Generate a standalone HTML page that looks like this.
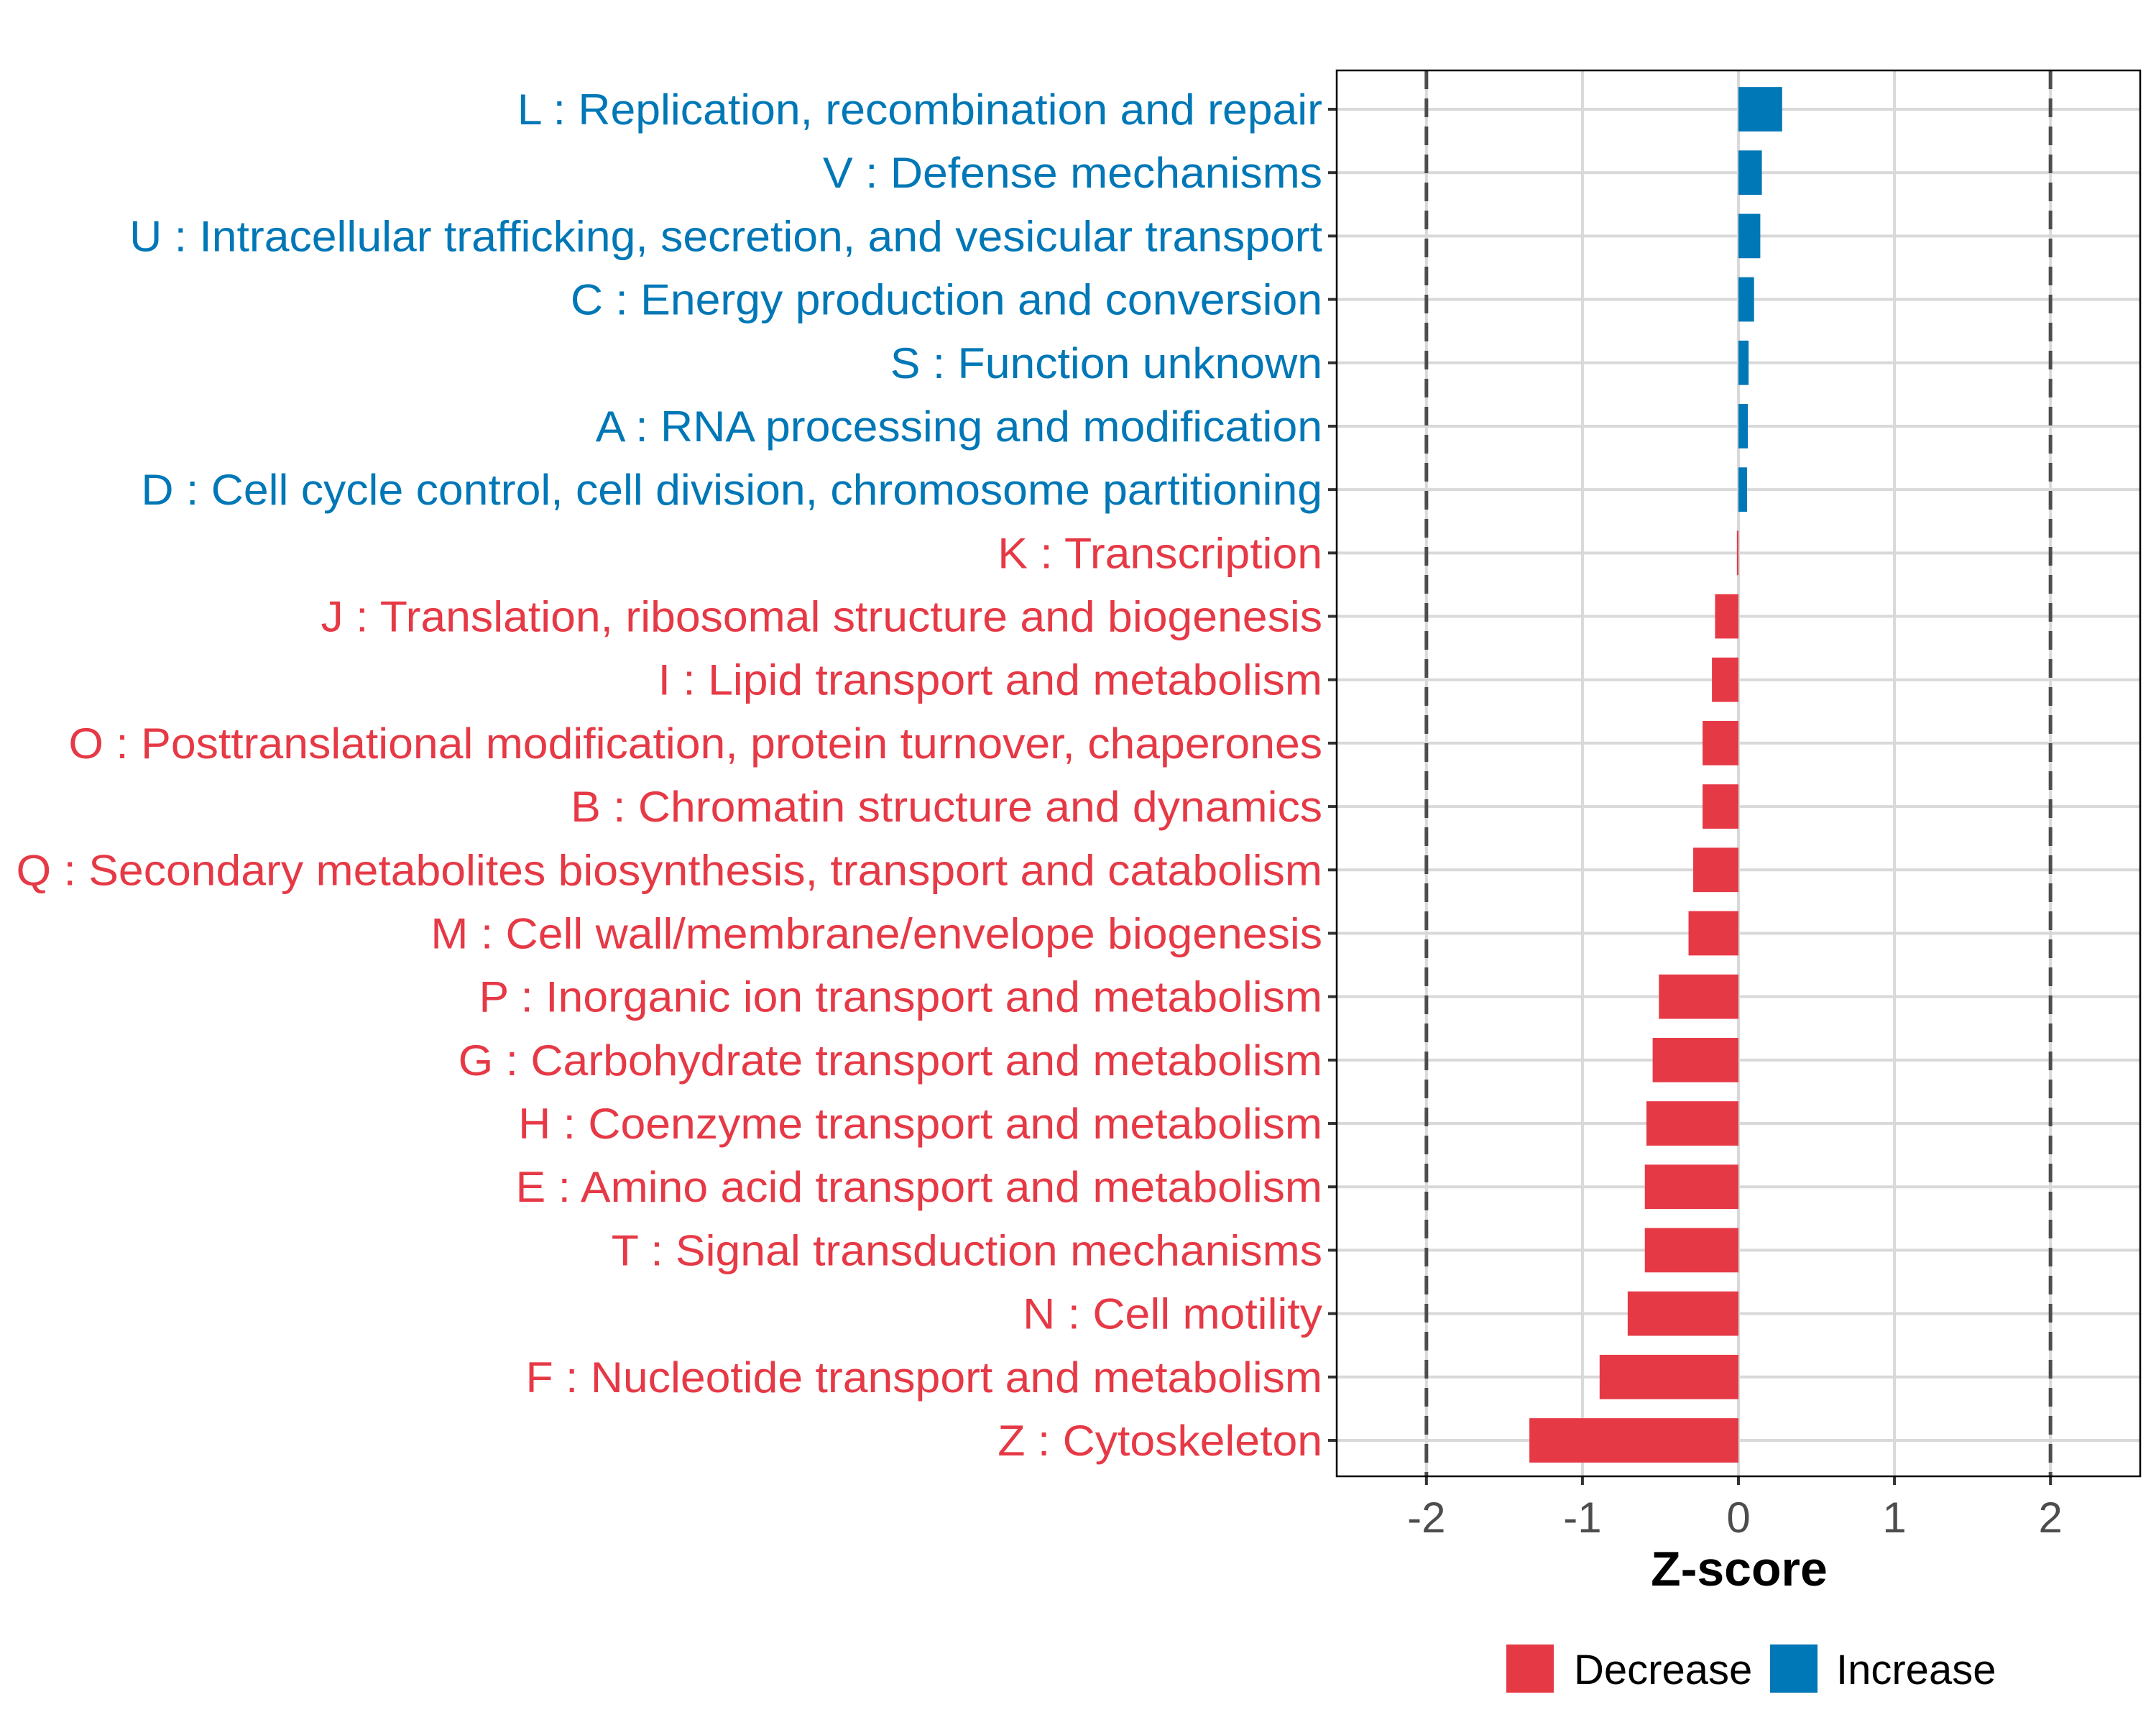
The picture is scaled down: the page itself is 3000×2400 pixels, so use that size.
<!DOCTYPE html>
<html><head><meta charset="utf-8"><style>
html,body{margin:0;padding:0;background:#fff;}
svg{display:block;font-family:"Liberation Sans",Arial,sans-serif;}
</style></head><body>
<svg id="chart" width="3000" height="2400" viewBox="0 0 3000 2400" xmlns="http://www.w3.org/2000/svg">
<rect x="0" y="0" width="3000" height="2400" fill="#fff"/>
<g id="grid"></g>
<g id="bars"></g>
<g id="labels"></g>
<g id="xaxis"></g>
<rect x="1860" y="98" width="1118" height="1956" fill="none" stroke="#000" stroke-width="2.5"/>
<text x="2420" y="2206" font-size="68" font-weight="bold" text-anchor="middle" fill="#000">Z-score</text>
<g>
<rect x="2096" y="2288" width="66" height="67" fill="#E63946"/>
<text x="2190" y="2343" font-size="58" fill="#000">Decrease</text>
<rect x="2463" y="2288" width="66" height="67" fill="#0077B6"/>
<text x="2555" y="2343" font-size="58" fill="#000">Increase</text>
</g>
</svg>
<script>
const categories = [
"L : Replication, recombination and repair",
"V : Defense mechanisms",
"U : Intracellular trafficking, secretion, and vesicular transport",
"C : Energy production and conversion",
"S : Function unknown",
"A : RNA processing and modification",
"D : Cell cycle control, cell division, chromosome partitioning",
"K : Transcription",
"J : Translation, ribosomal structure and biogenesis",
"I : Lipid transport and metabolism",
"O : Posttranslational modification, protein turnover, chaperones",
"B : Chromatin structure and dynamics",
"Q : Secondary metabolites biosynthesis, transport and catabolism",
"M : Cell wall/membrane/envelope biogenesis",
"P : Inorganic ion transport and metabolism",
"G : Carbohydrate transport and metabolism",
"H : Coenzyme transport and metabolism",
"E : Amino acid transport and metabolism",
"T : Signal transduction mechanisms",
"N : Cell motility",
"F : Nucleotide transport and metabolism",
"Z : Cytoskeleton"
];
const zscores = [0.28,0.15,0.14,0.10,0.065,0.06,0.055,-0.01,-0.15,-0.17,-0.23,-0.23,-0.29,-0.32,-0.51,-0.55,-0.59,-0.60,-0.60,-0.71,-0.89,-1.34];
const xTicks = [-2,-1,0,1,2];
const xTickLabels = ["-2","-1","0","1","2"];
const thresholds = [-2,2];

const NS="http://www.w3.org/2000/svg";
const panel={left:1860,right:2978,top:98,bottom:2054};
const xMin=-2.575,xMax=2.575;
function xs(v){return panel.left+(v-xMin)/(xMax-xMin)*(panel.right-panel.left);}
const rowTop=152,rowBot=2004;
function ys(i){return rowTop+i*(rowBot-rowTop)/(categories.length-1);}
const band=(rowBot-rowTop)/(categories.length-1);
function mk(tag,attrs,parent){const e=document.createElementNS(NS,tag);for(const k in attrs)e.setAttribute(k,attrs[k]);parent.appendChild(e);return e;}
const grid=document.getElementById('grid'),bars=document.getElementById('bars'),labels=document.getElementById('labels'),xaxis=document.getElementById('xaxis');
xTicks.forEach(v=>{
  const l=mk('line',{x1:xs(v),x2:xs(v),y1:panel.top,y2:panel.bottom,stroke:'#d9d9d9','stroke-width':4},grid);
  
  
});
categories.forEach((c,i)=>{
  const l=mk('line',{x1:panel.left,x2:panel.right,y1:ys(i),y2:ys(i),stroke:'#d9d9d9','stroke-width':4},grid);
  
  
});
thresholds.forEach(v=>{
  const l=mk('line',{x1:xs(v),x2:xs(v),y1:panel.top,y2:panel.bottom,stroke:'#4d4d4d','stroke-width':5,'stroke-dasharray':'26 13'},grid);
  
  
});
categories.forEach((c,i)=>{
  const v=zscores[i];
  const x0=Math.min(xs(0),xs(v)),w=Math.max(Math.abs(xs(v)-xs(0)),1.5);
  const b=mk('rect',{x:x0,y:ys(i)-band*0.35,width:w,height:band*0.7,fill:v>=0?'#0077B6':'#E63946'},bars);
  
  
  const t=mk('line',{x1:panel.left-12,x2:panel.left,y1:ys(i),y2:ys(i),stroke:'#333','stroke-width':4},labels);
  
  
  const tx=mk('text',{x:0,y:0,'font-size':60,'text-anchor':'end',fill:v>=0?'#0077B6':'#E63946'},labels);
  tx.textContent=c;
  
  
});
let maxW=0;const texts=labels.querySelectorAll('text');
texts.forEach(t=>{maxW=Math.max(maxW,t.getComputedTextLength());});
const sx=maxW>0?1818/maxW:1;
texts.forEach((t,i)=>{t.setAttribute('transform','translate(1840,'+(ys(i)+21)+') scale('+sx+',1)');});
xTicks.forEach((v,i)=>{
  const t=mk('line',{x1:xs(v),x2:xs(v),y1:panel.bottom,y2:panel.bottom+12,stroke:'#333','stroke-width':4},xaxis);
  
  
  const tx=mk('text',{x:xs(v),y:2132,'font-size':60,'text-anchor':'middle',fill:'#4d4d4d'},xaxis);
  tx.textContent=xTickLabels[i];
  
  
});
</script>
</body></html>
